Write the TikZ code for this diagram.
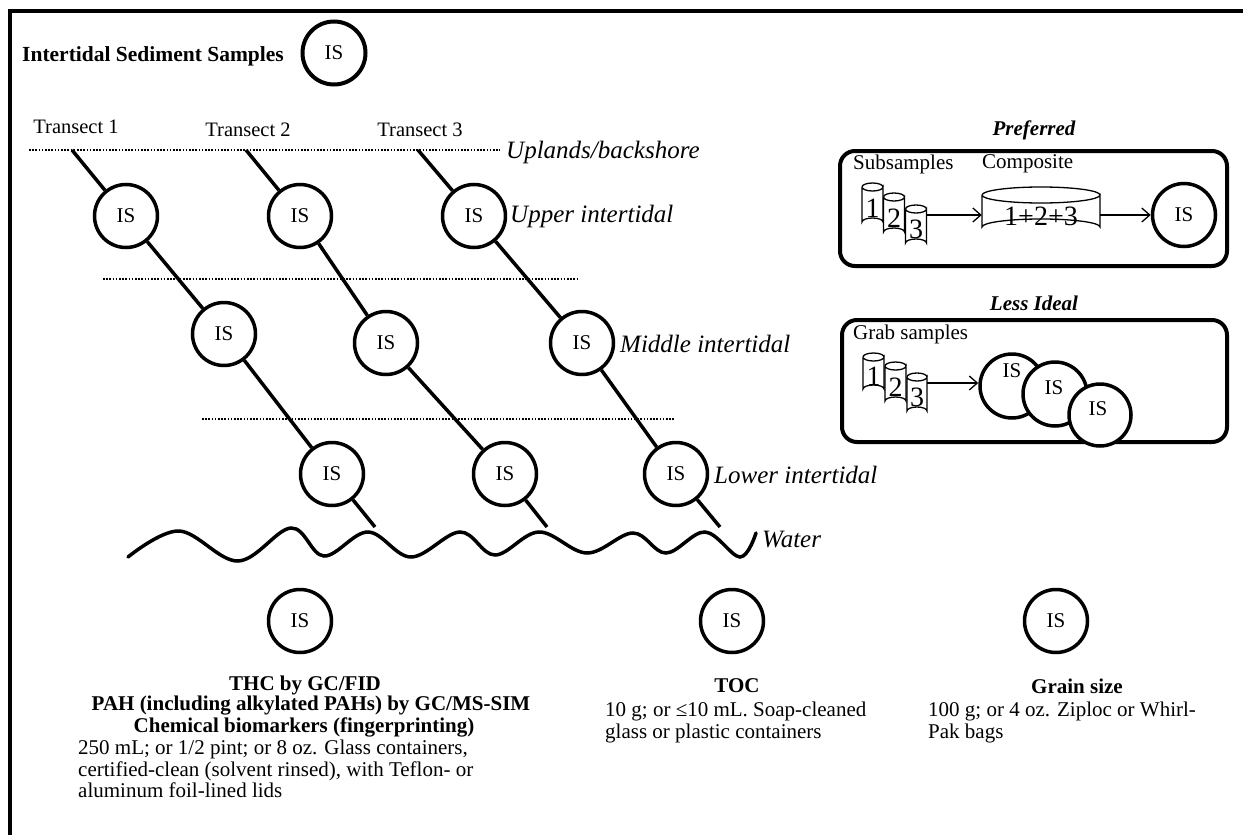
\documentclass[tikz,border=0pt]{standalone}
\usepackage{fontspec}
\setmainfont{Liberation Serif}
\usetikzlibrary{arrows.meta}
\newcommand{\cylshape}[5]{% cx cy w h ry
  \pgfmathsetmacro{\cxl}{#1-#3/2}\pgfmathsetmacro{\cxr}{#1+#3/2}%
  \pgfmathsetmacro{\cyt}{#2-#4/2+#5}\pgfmathsetmacro{\cyb}{#2+#4/2-#5}%
  \filldraw[cyl] (\cxl,\cyt) -- (\cxl,\cyb) arc[start angle=180,end angle=360,x radius=#3/2,y radius=#5]
    -- (\cxr,\cyt) arc[start angle=0,end angle=180,x radius=#3/2,y radius=#5];
  \draw[cyl] (\cxl,\cyt) arc[start angle=180,end angle=360,x radius=#3/2,y radius=#5];}
\begin{document}
\begin{tikzpicture}[x=1pt,y=-1pt,
  is/.style={circle,draw,line width=3.5pt,minimum size=63pt,inner sep=0pt,fill=white,font=\fontsize{21}{21}\selectfont},
  tline/.style={line width=3.5pt},
  dotline/.style={line width=2.6pt,dash pattern=on 1.6pt off 1.6pt},
  lab/.style={anchor=west,inner sep=0pt,font=\fontsize{25}{25}\selectfont\itshape},
  txt/.style={inner sep=0pt,font=\fontsize{21}{21}\selectfont},
  bold/.style={inner sep=0pt,font=\fontsize{21}{21}\selectfont\bfseries},
  body/.style={anchor=north west,align=left,inner sep=0pt,font=\fontsize{21}{21.5}\selectfont},
  arr/.style={line width=1.3pt,-{Straight Barb[length=8pt,width=14pt]}},
  cyl/.style={line width=1.3pt,fill=white},
  cylnode/.style={inner sep=0pt,font=\fontsize{28}{28}\selectfont},
  rbox/.style={draw,line width=4pt,rounded corners=15pt,inner sep=0pt}]
\useasboundingbox (0,0) rectangle (1243,835);
\fill[white] (0,0) rectangle (1243,835);
% frame
\draw[line width=4pt] (10,840) -- (10,11) -- (1250,11);

% title
\node[anchor=west,inner sep=0pt,font=\fontsize{21.5}{21.5}\selectfont\bfseries] (title) at (22,56) {Intertidal Sediment Samples};
\node[is,line width=4pt] (tis) at (334,53) {IS};

% transect labels
\node[txt,font=\fontsize{20.5}{20.5}\selectfont] (tr1) at (76,127) {Transect 1};
\node[txt,font=\fontsize{20.5}{20.5}\selectfont] (tr2) at (248,130) {Transect 2};
\node[txt,font=\fontsize{20.5}{20.5}\selectfont] (tr3) at (420,130) {Transect 3};

% zone lines
\draw[dotline] (29,150) -- (500,150);
\draw[dotline] (103,279) -- (578,279);
\draw[dotline] (202,419) -- (674,419);
\node[lab] (lup) at (506,152) {Uplands/backshore};
\node[lab] (lui) at (510,216) {Upper intertidal};
\node[lab] (lmi) at (620,344) {Middle intertidal};
\node[lab] (lli) at (714,475) {Lower intertidal};

% transect start / end points
\coordinate (s1) at (72,150);  \coordinate (e1) at (375,527);
\coordinate (s2) at (246,150); \coordinate (e2) at (547,527);
\coordinate (s3) at (418,150); \coordinate (e3) at (720,527);

% sample circles
\node[is] (u1) at (126,216) {IS};
\node[is] (u2) at (300,216) {IS};
\node[is] (u3) at (474,216) {IS};
\node[is] (m1) at (224,334) {IS};
\node[is] (m2) at (386,343) {IS};
\node[is] (m3) at (582,343) {IS};
\node[is] (l1) at (332,474) {IS};
\node[is] (l2) at (505,474) {IS};
\node[is] (l3) at (676,474) {IS};

\draw[tline] (s1) -- (u1) -- (m1) -- (l1) -- (e1);
\draw[tline] (s2) -- (u2) -- (m2) -- (l2) -- (e2);
\draw[tline] (s3) -- (u3) -- (m3) -- (l3) -- (e3);

% water
\draw[line width=3.5pt,line cap=round] plot[smooth,tension=0.6] coordinates {
 (128,557) (179,531) (238,561) (291,528) (324,556) (368,532) (411,557) (460,532)
 (495,555) (539,532) (587,553) (633,533) (666,553) (705,532) (740,557) (756,533)};
\node[lab] (water) at (762,539) {Water};

% Preferred
\node[inner sep=0pt,font=\fontsize{21}{21}\selectfont\bfseries\itshape] (pref) at (1034,130) {Preferred};
\node[rbox,minimum width=387pt,minimum height=115pt] (pbox) at (1033.5,208.5) {};
\node[txt,anchor=west] (subs) at (853,164) {Subsamples};
\node[txt,anchor=west] (compl) at (982,164) {Composite};
\cylshape{872.5}{204.5}{21}{43}{4}
\cylshape{894}{214.5}{21}{43}{4}
\cylshape{916}{226}{21}{42}{4}
\node[cylnode,minimum width=21pt,minimum height=43pt] (c1) at (872.5,208) {1};
\node[cylnode,minimum width=21pt,minimum height=43pt] (c2) at (894,218) {2};
\node[cylnode,minimum width=21pt,minimum height=42pt] (c3) at (916,229) {3};
\cylshape{1041}{211}{118}{48}{8}
\node[cylnode,minimum width=118pt,minimum height=40pt] (comp) at (1041,216) {1+2+3};
\node[is] (pis) at (1184,215) {IS};
\draw[arr] (c3.east |- pis.west) -- (comp.west |- pis.west);
\draw[arr] (comp.east |- pis.west) -- (pis.west);

% Less ideal
\node[inner sep=0pt,font=\fontsize{21}{21}\selectfont\bfseries\itshape] (less) at (1034,303) {Less Ideal};
\node[rbox,minimum width=385pt,minimum height=122pt] (lbox) at (1034.5,381) {};
\node[txt,anchor=west] (grab) at (853,334) {Grab samples};
\cylshape{873.5}{373}{21}{40}{4}
\cylshape{895.5}{383.5}{21}{43}{4}
\cylshape{917}{394}{20}{42}{4}
\node[cylnode,minimum width=21pt,minimum height=40pt] (g1) at (873.5,376) {1};
\node[cylnode,minimum width=21pt,minimum height=43pt] (g2) at (895.5,387) {2};
\node[cylnode,minimum width=20pt,minimum height=42pt] (g3) at (917,397) {3};
\node[is,minimum size=64pt] (gi1) at (1012,386) {};
\node[is,minimum size=64pt] (gi2) at (1055,394) {};
\node[is,minimum size=62pt] (gi3) at (1100,415) {};
\node[txt] (gt1) at (1012,371) {IS};
\node[txt] (gt2) at (1054,388) {IS};
\node[txt] (gt3) at (1098,409) {IS};
\draw[arr] (g3.east |- 0,383) -- (gi1.west |- 0,383);

% bottom analyses
\node[is] (b1) at (300,621) {IS};
\node[is] (b2) at (732,621) {IS};
\node[is] (b3) at (1056,621) {IS};

\node[bold] (thc) at (305,685) {THC by GC/FID};
\node[bold] (pah) at (311,706) {PAH (including alkylated PAHs) by GC/MS-SIM};
\node[bold] (chem) at (304,727) {Chemical biomarkers (fingerprinting)};
\node[body] (thcb) at (78,740) {250 mL; or 1/2 pint; or 8 oz. Glass containers,\\certified-clean (solvent rinsed), with Teflon- or\\aluminum foil-lined lids};

\node[bold] (toc) at (737,686) {TOC};
\node[body] (tocb) at (605,702) {10 g; or ≤10 mL. Soap-cleaned\\glass or plastic containers};

\node[bold] (grain) at (1077,686) {Grain size};
\node[body] (grainb) at (928,702) {100 g; or 4 oz. Ziploc or Whirl-\\Pak bags};
\end{tikzpicture}
\end{document}
